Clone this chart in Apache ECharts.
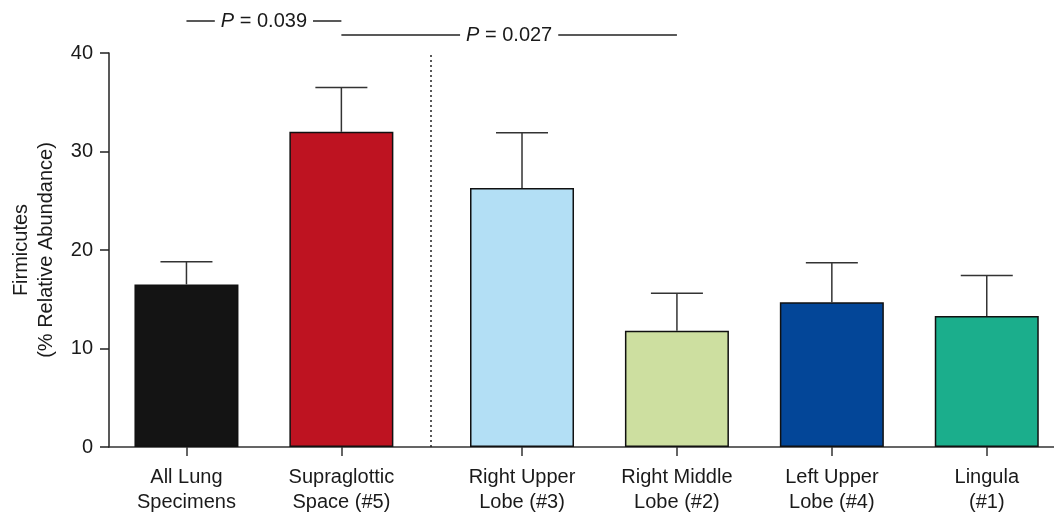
<!DOCTYPE html>
<html>
<head>
<meta charset="utf-8">
<script src="https://cdn.jsdelivr.net/npm/echarts@6/dist/echarts.min.js"></script>
<style>
html,body{margin:0;padding:0;background:#fff;}
#chart{width:1054px;height:513px;}
</style>
</head>
<body>
<div id="chart"></div>
<script>
// ---- data ----
const categories = ['All Lung\nSpecimens', 'Supraglottic\nSpace (#5)', 'Right Upper\nLobe (#3)', 'Right Middle\nLobe (#2)', 'Left Upper\nLobe (#4)', 'Lingula\n(#1)'];
const means = [16.5, 32.0, 26.3, 11.8, 14.7, 13.3];
const errorTops = [18.8, 36.5, 31.9, 15.6, 18.7, 17.4];
const barColors = ['#141414', '#be1321', '#b3dff5', '#cddfa0', '#034698', '#1bae8c'];
const yTicks = [0, 10, 20, 30, 40];
const comparisons = [[0, 1], [1, 3]];
const pValues = ['0.039', '0.027'];

// ---- layout helpers ----
const GROUP_GAP = 0.166;          // extra space between the two groups (in category units)
const pos = categories.map((c, i) => i + (i >= 2 ? GROUP_GAP : 0));
const dividerX = (pos[1] + pos[2]) / 2;
const FONT = '"Liberation Sans", Arial, Helvetica, sans-serif';
const TEXT = '#1a1a1a';
const FS = 20;

const chart = echarts.init(document.getElementById('chart'), null, {renderer: 'canvas'});

const option = {
  animation: false,
  backgroundColor: '#fff',
  textStyle: {fontFamily: FONT, color: TEXT},
  grid: {left: 109, right: 0, top: 53, bottom: 66, containLabel: false, outerBoundsMode: 'none'},
  xAxis: {
    type: 'value',
    min: -0.5,
    max: 5.6,
    splitLine: {show: false},
    axisLine: {show: true, onZero: false, lineStyle: {color: '#333', width: 1.5}},
    axisTick: {show: true, customValues: pos, length: 9, lineStyle: {color: '#333', width: 1.5}},
    axisLabel: {
      customValues: pos,
      margin: 18,
      fontSize: FS,
      lineHeight: 25,
      color: TEXT,
      fontFamily: FONT,
      formatter: function (v) {
        let best = 0;
        pos.forEach((p, i) => { if (Math.abs(p - v) < Math.abs(pos[best] - v)) best = i; });
        return categories[best];
      }
    }
  },
  yAxis: {
    type: 'value',
    min: yTicks[0],
    max: yTicks[yTicks.length - 1],
    interval: 10,
    name: 'Firmicutes\n(% Relative Abundance)',
    nameLocation: 'middle',
    nameRotate: 90,
    nameGap: 50,
    nameTextStyle: {fontSize: FS, lineHeight: 25, color: TEXT, fontFamily: FONT},
    splitLine: {show: false},
    axisLine: {show: true, onZero: false, lineStyle: {color: '#222', width: 1.5}},
    axisTick: {show: true, length: 9, lineStyle: {color: '#222', width: 1.5}},
    axisLabel: {margin: 16, fontSize: FS, color: TEXT, fontFamily: FONT}
  },
  series: [
    {
      type: 'bar',
      barWidth: 104,
      data: means.map((v, i) => ({value: [pos[i], v], itemStyle: {color: barColors[i]}})),
      itemStyle: {borderColor: '#111', borderWidth: 1.5},
      markLine: {
        silent: true,
        symbol: 'none',
        label: {show: false},
        lineStyle: {type: [2, 3], color: '#222', width: 1.5},
        data: [{xAxis: dividerX}]
      },
      z: 2
    },
    {
      type: 'custom',
      data: means.map((v, i) => [pos[i], v, errorTops[i]]),
      encode: {x: 0, y: [1, 2]},
      renderItem: function (params, api) {
        const base = api.coord([api.value(0), api.value(1)]);
        const top = api.coord([api.value(0), api.value(2)]);
        const half = 26;
        const style = {stroke: '#333', lineWidth: 1.5, fill: null};
        return {
          type: 'group',
          children: [
            {type: 'line', shape: {x1: base[0], y1: base[1], x2: top[0], y2: top[1]}, style: style},
            {type: 'line', shape: {x1: top[0] - half, y1: top[1], x2: top[0] + half, y2: top[1]}, style: style}
          ]
        };
      },
      z: 3
    },
    {
      type: 'custom',
      clip: false,
      data: comparisons.map((c, k) => [pos[c[0]], pos[c[1]], yTicks[yTicks.length - 1], k]),
      encode: {x: [0, 1], y: 2},
      renderItem: function (params, api) {
        const k = api.value(3);
        const a = api.coord([api.value(0), api.value(2)]);
        const b = api.coord([api.value(1), api.value(2)]);
        const offsets = [32, 18];
        const y = a[1] - offsets[k];
        return {
          type: 'group',
          children: [
            {type: 'line', shape: {x1: a[0], y1: y, x2: b[0], y2: y}, style: {stroke: '#222', lineWidth: 1.3}},
            {
              type: 'text',
              x: (a[0] + b[0]) / 2,
              y: y,
              style: {
                text: '{i|P} = ' + pValues[k],
                rich: {i: {fontStyle: 'italic', fontSize: FS, fontFamily: FONT, fill: TEXT}},
                fontSize: FS,
                fontFamily: FONT,
                fill: TEXT,
                align: 'center',
                verticalAlign: 'middle',
                backgroundColor: '#fff',
                padding: [0, 6]
              }
            }
          ]
        };
      },
      z: 4
    }
  ]
};
chart.setOption(option);
</script>
</body>
</html>
